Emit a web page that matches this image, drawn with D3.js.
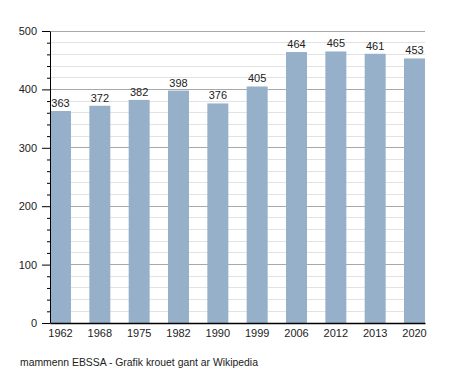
<!DOCTYPE html>
<html><head><meta charset="utf-8">
<script src="https://cdn.jsdelivr.net/npm/d3@7"></script>
<style>body{margin:0;background:#fff}svg{display:block}text{font-family:"Liberation Sans",Arial,sans-serif}</style>
</head><body><svg id="c" width="455" height="373"></svg>
<script>
const years = ["1962","1968","1975","1982","1990","1999","2006","2012","2013","2020"];
const population = [363,372,382,398,376,405,464,465,461,453];
const yTicks = [0,100,200,300,400,500];
const source = "mammenn EBSSA - Grafik krouet gant ar Wikipedia";

const svg = d3.select("#c");
const L = 50, R = 425, T = 31, B = 323;
const x = d3.scaleBand().domain(years).range([L, R]).paddingInner(0.466).paddingOuter(0);
const y = d3.scaleLinear().domain([0, 500]).range([B, T]);

const minor = d3.range(20, 500, 20).filter(v => v % 100 !== 0);
svg.append("g").selectAll("line").data(minor).join("line")
  .attr("x1", L).attr("x2", R).attr("y1", d => y(d)).attr("y2", d => y(d))
  .attr("stroke", "#e2e2e2").attr("stroke-width", 1).attr("shape-rendering","crispEdges");
svg.append("g").selectAll("line").data(yTicks.filter(v => v > 0)).join("line")
  .attr("x1", L).attr("x2", R).attr("y1", d => y(d)).attr("y2", d => y(d))
  .attr("stroke", "#a8a8a8").attr("stroke-width", 1).attr("shape-rendering","crispEdges");

svg.append("g").selectAll("rect").data(years).join("rect")
  .attr("x", d => x(d)).attr("width", x.bandwidth())
  .attr("y", (d,i) => y(population[i])).attr("height", (d,i) => B - y(population[i]))
  .attr("fill", "#97b0c9");

svg.append("g").selectAll("text").data(years).join("text")
  .attr("x", d => x(d) + x.bandwidth()/2).attr("y", (d,i) => y(population[i]) - 4)
  .attr("text-anchor", "middle").attr("font-size", 11).attr("fill", "#222")
  .text((d,i) => population[i]);

const yAxis = d3.axisLeft(y).tickValues(yTicks).tickSize(8).tickPadding(5).tickSizeOuter(0);
const gy = svg.append("g").attr("transform", `translate(${L},0)`).call(yAxis);
gy.selectAll("text").attr("font-size", 11).attr("fill", "#222").style("font-family",'"Liberation Sans",Arial,sans-serif');
gy.selectAll("line,path").attr("stroke", "#000");
const gyMinor = svg.append("g").attr("transform", `translate(${L},0)`)
  .call(d3.axisLeft(y).tickValues(minor).tickSize(3).tickFormat("").tickSizeOuter(0));
gyMinor.select("path").remove();
gyMinor.selectAll("line").attr("stroke", "#000");

const gx = svg.append("g").attr("transform", `translate(0,${B})`)
  .call(d3.axisBottom(x).tickSize(0).tickPadding(6).tickSizeOuter(0));
gx.select("path").attr("stroke", "#000").attr("stroke-width", 1.5);
gx.selectAll("text").attr("font-size", 11).attr("fill", "#222").style("font-family",'"Liberation Sans",Arial,sans-serif');

svg.append("text").attr("x", 20).attr("y", 366).attr("font-size", 10.4).attr("fill", "#222").text(source);
</script></body></html>
